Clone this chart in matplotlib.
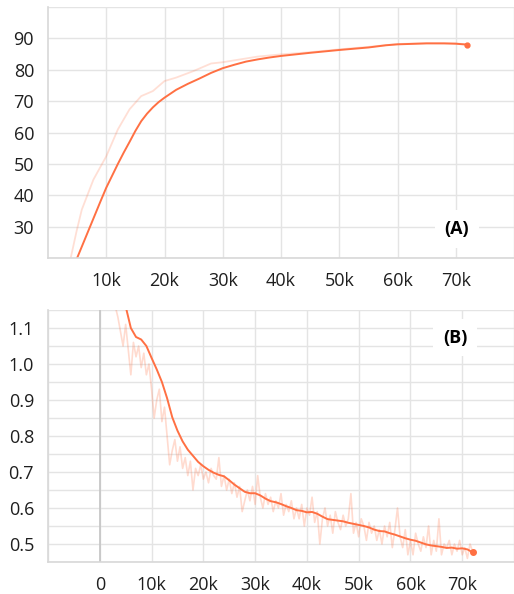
import matplotlib.pyplot as plt
import numpy as np

plt.rcParams['font.family'] = ['Open Sans', 'DejaVu Sans']

# --- (A) accuracy ---
a_raw_steps = [3900, 4900, 5800, 7800, 10000, 12000, 14000, 16000, 18000, 20000, 22000,
               25000, 28000, 30000, 36000, 40000, 45000, 50000, 55000, 60000, 65000, 70000, 72000]
a_raw = [20.0, 28.5, 35.4, 45.0, 52.4, 61.0, 67.4, 71.6, 73.2, 76.4, 77.5,
         79.6, 82.0, 82.4, 84.2, 84.9, 85.6, 86.5, 87.3, 88.2, 88.5, 88.4, 88.1]

a_smooth_steps = [5000, 6000, 7000, 8000, 9000, 10000, 11000, 12000, 13000, 14000, 15000,
                  16000, 17000, 18000, 19000, 20000, 22000, 24000, 26000, 28000, 30000,
                  32000, 34000, 36000, 38000, 40000, 45000, 50000, 55000, 58000, 60000,
                  65000, 68000, 70000, 72000]
a_smooth = [20.0, 24.5, 29.0, 33.5, 38.0, 42.4, 46.2, 50.0, 53.6, 57.0, 60.5,
            63.6, 66.0, 68.0, 69.7, 71.1, 73.6, 75.5, 77.2, 79.0, 80.5,
            81.6, 82.6, 83.3, 83.9, 84.4, 85.4, 86.3, 87.1, 87.8, 88.1,
            88.4, 88.4, 88.3, 88.0]

# --- (B) loss ---
b_raw_steps = np.arange(3000, 72001, 500)   # every 500 steps
b_raw = [1.16, 1.13, 1.09, 1.05, 1.11, 1.04, 0.97, 1.06, 1.02, 1.05,
         0.99, 1.03, 0.97, 1.00, 0.93, 0.85, 0.90, 0.93, 0.84, 0.88,
         0.80, 0.72, 0.76, 0.79, 0.73, 0.77, 0.71, 0.74, 0.69, 0.73,
         0.65, 0.71, 0.69, 0.72, 0.68, 0.70, 0.67, 0.71, 0.69, 0.68,
         0.74, 0.66, 0.69, 0.65, 0.68, 0.64, 0.67, 0.63, 0.66, 0.59,
         0.62, 0.65, 0.62, 0.66, 0.61, 0.69, 0.63, 0.60, 0.64, 0.61,
         0.63, 0.59, 0.62, 0.60, 0.64, 0.58, 0.61, 0.59, 0.62, 0.57,
         0.60, 0.57, 0.61, 0.55, 0.60, 0.58, 0.63, 0.56, 0.59, 0.50,
         0.57, 0.60, 0.55, 0.58, 0.53, 0.59, 0.56, 0.54, 0.58, 0.55,
         0.57, 0.64, 0.53, 0.56, 0.52, 0.57, 0.55, 0.51, 0.56, 0.53,
         0.55, 0.51, 0.54, 0.50, 0.55, 0.52, 0.56, 0.49, 0.54, 0.60,
         0.52, 0.49, 0.54, 0.47, 0.51, 0.47, 0.53, 0.50, 0.48, 0.52,
         0.49, 0.55, 0.47, 0.51, 0.48, 0.57, 0.47, 0.50, 0.49, 0.51,
         0.47, 0.50, 0.48, 0.51, 0.47, 0.49, 0.46, 0.50, 0.48]

b_smooth_steps = np.arange(5000, 72001, 1000)
b_smooth = [1.16, 1.10, 1.075, 1.068, 1.05, 1.017, 0.985, 0.950, 0.905, 0.852,
            0.815, 0.785, 0.762, 0.745, 0.728, 0.716, 0.706, 0.698, 0.692, 0.688,
            0.677, 0.665, 0.655, 0.645, 0.641, 0.641, 0.635, 0.626, 0.619, 0.616,
            0.611, 0.605, 0.600, 0.594, 0.592, 0.588, 0.589, 0.584, 0.576, 0.569,
            0.567, 0.565, 0.563, 0.559, 0.556, 0.553, 0.550, 0.546, 0.540, 0.536,
            0.535, 0.530, 0.526, 0.521, 0.516, 0.512, 0.509, 0.504, 0.499, 0.496,
            0.494, 0.492, 0.489, 0.490, 0.487, 0.488, 0.485, 0.477]

orange = '#ff7043'
grid_c = '#e4e4e4'

fig = plt.figure(figsize=(5.14, 5.94), dpi=100)
ax1 = fig.add_axes([48/514, 1-258/594, 1-48/514, 251/594])
ax2 = fig.add_axes([48/514, 1-562/594, 1-48/514, 252/594])


def style(ax):
    for s in ['top', 'right']:
        ax.spines[s].set_visible(False)
    for s in ['left', 'bottom']:
        ax.spines[s].set_color('#d8d8d8')
        ax.spines[s].set_linewidth(1.2)
    ax.grid(True, color=grid_c, linewidth=1)
    ax.set_axisbelow(True)
    ax.tick_params(length=0, labelsize=13, labelcolor='#1e1e1e')
    ax.tick_params(axis='y', pad=10)
    ax.tick_params(axis='x', pad=10)


# (A)
ax1.plot(a_raw_steps, a_raw, color=orange, alpha=0.22, lw=1.3)
ax1.plot(a_smooth_steps, a_smooth, color=orange, lw=1.4)
ax1.plot(a_smooth_steps[-1], a_smooth[-1], 'o', color=orange, ms=3.5)
ax1.set_xlim(0, 80000)
ax1.set_ylim(20, 100)
ax1.set_xticks(range(10000, 80001, 10000))
ax1.set_xticklabels(['10k', '20k', '30k', '40k', '50k', '60k', '70k', ''])
ax1.set_yticks(range(20, 101, 10))
ax1.set_yticklabels(['', '30', '40', '50', '60', '70', '80', '90', ''])
style(ax1)
ax1.text(0.877, 0.115, '(A)', transform=ax1.transAxes, ha='center', va='center',
         fontsize=13, fontweight='bold',
         bbox=dict(facecolor='white', edgecolor='none', pad=7))

# (B)
ax2.plot(b_raw_steps, b_raw, color=orange, alpha=0.25, lw=1.2)
ax2.plot(b_smooth_steps, b_smooth, color=orange, lw=1.4)
ax2.plot(b_smooth_steps[-1], b_smooth[-1], 'o', color=orange, ms=4)
ax2.set_xlim(-10000, 80000)
ax2.set_ylim(0.45, 1.15)
ax2.set_xticks(range(-10000, 80001, 10000))
ax2.set_xticklabels(['', '0', '10k', '20k', '30k', '40k', '50k', '60k', '70k', ''])
ax2.set_yticks(np.arange(0.45, 1.151, 0.05))
ax2.set_yticklabels(['', '0.5', '', '0.6', '', '0.7', '', '0.8', '', '0.9', '', '1.0', '', '1.1', ''])
style(ax2)
ax2.axvline(0, color='#c4c4c4', lw=1.2, zorder=1)
ax2.text(0.874, 0.89, '(B)', transform=ax2.transAxes, ha='center', va='center',
         fontsize=13, fontweight='bold',
         bbox=dict(facecolor='white', edgecolor='none', pad=7))

fig.savefig('out.png', dpi=100)
